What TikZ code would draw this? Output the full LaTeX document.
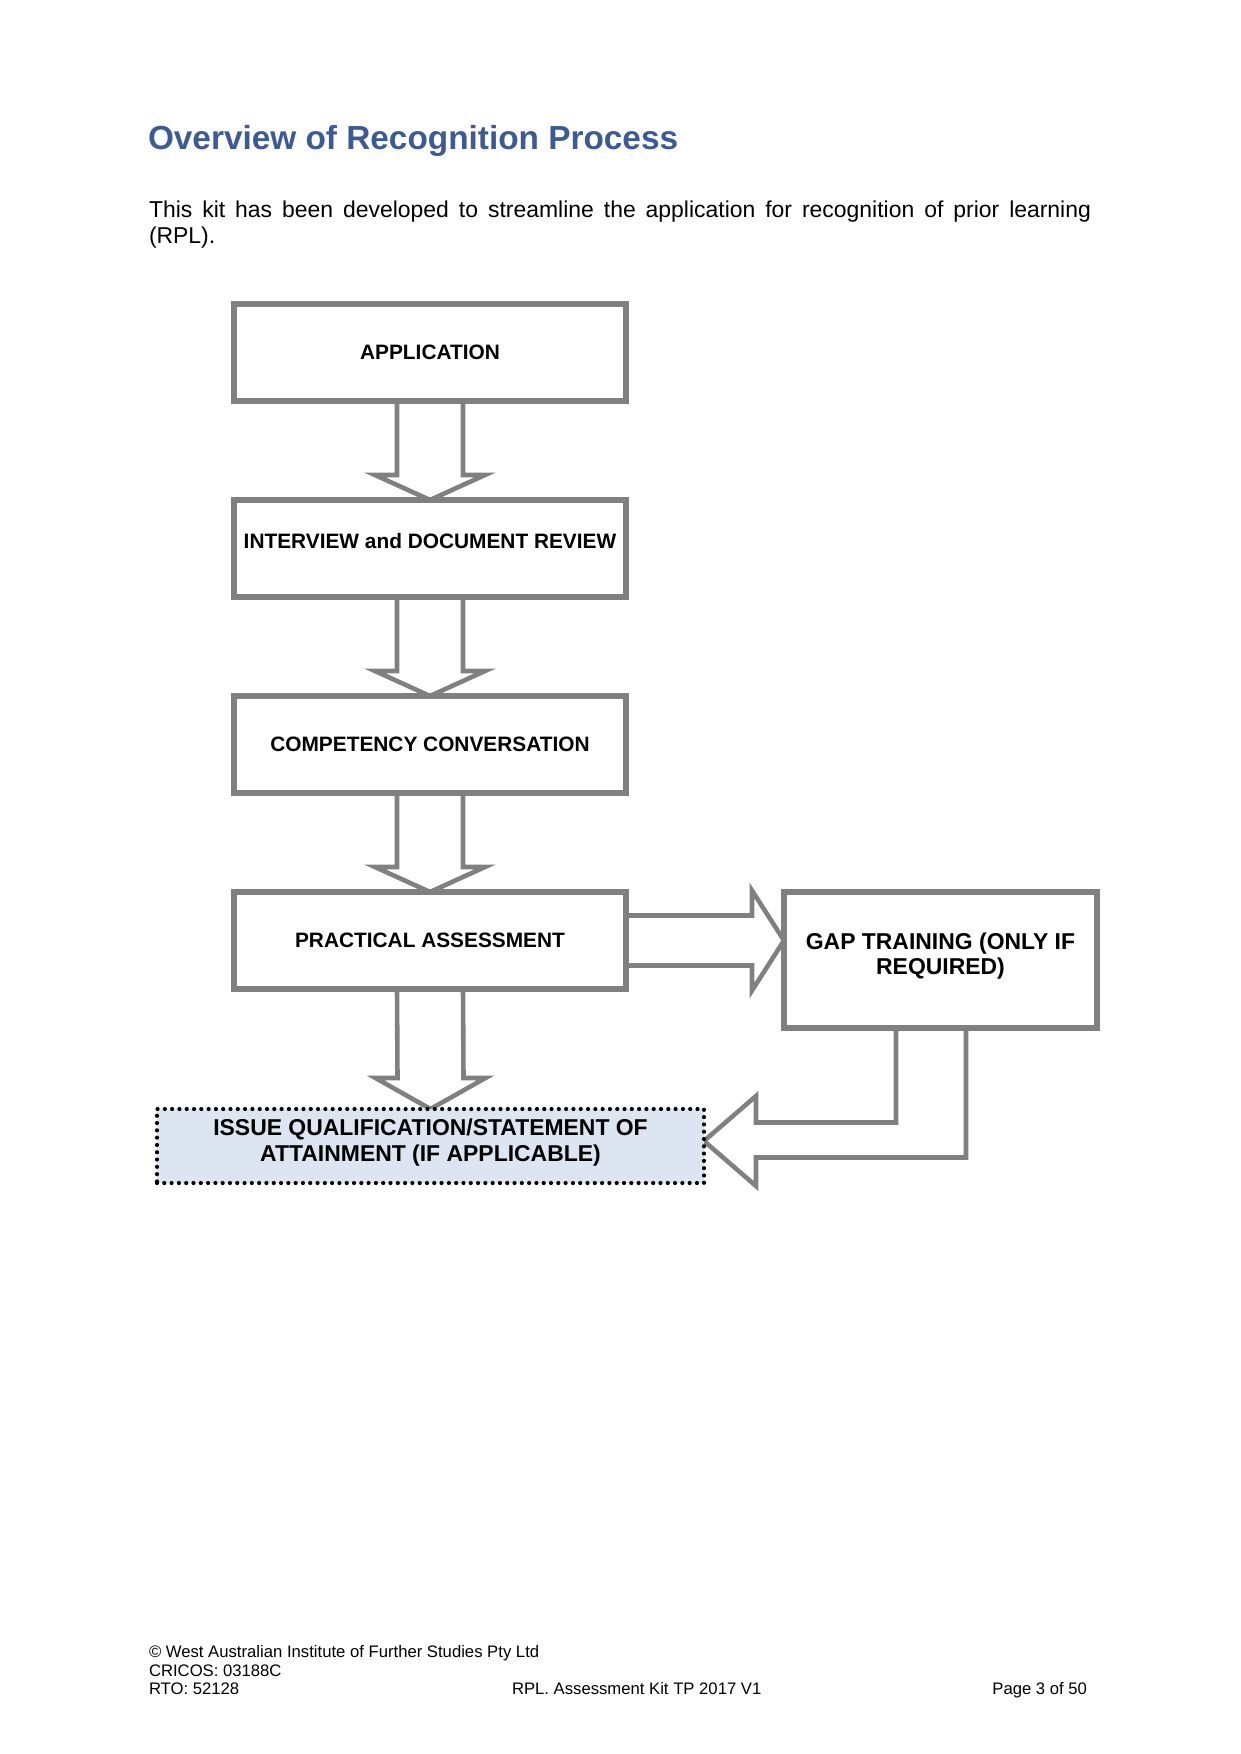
\documentclass[tikz,border=0pt]{standalone}
\usepackage{fontspec}
\setmainfont{Liberation Sans}
\usetikzlibrary{calc,backgrounds}
\definecolor{lgray}{RGB}{128,128,128}
\definecolor{titleblue}{RGB}{60,90,150}
\definecolor{issuefill}{RGB}{220,229,241}
\newcommand\blockdown[3]{%
  \draw[blockarrow] ($(#1.south)+(-33,0)$) -- ($(#2.north)+(-33,-#3)$) -- ($(#2.north)+(-55,-#3)$) -- (#2.north) -- ($(#2.north)+(55,-#3)$) -- ($(#2.north)+(33,-#3)$) -- ($(#1.south)+(33,0)$) -- cycle;}
\begin{document}
\begin{tikzpicture}[x=0.479674pt, y=-0.479674pt,
  box/.style={draw=lgray, line width=2.8pt, fill=white, inner sep=0pt, outer sep=0pt,
    minimum width=188.03pt, minimum height=46.53pt,
    font=\fontsize{10}{12}\selectfont\bfseries, align=center},
  gapbox/.style={box, minimum width=150.14pt, minimum height=65.24pt,
    font=\fontsize{11}{12}\selectfont\bfseries},
  issuebox/.style={draw=black, line width=2pt, dash pattern=on 0pt off 3.5pt, line cap=round,
    fill=issuefill, inner sep=0pt, outer sep=0pt, minimum width=262.38pt, minimum height=35.5pt,
    font=\fontsize{11}{12.5}\selectfont\bfseries, align=center},
  blockarrow/.style={draw=lgray, line width=2.2pt, fill=white, line join=miter},
  plain/.style={inner sep=0pt, outer sep=0pt}
]
\useasboundingbox (0,0) rectangle (1241,1754);

% heading and intro
\node[plain, anchor=base west, text=titleblue, font=\fontsize{16}{19}\selectfont\bfseries] (title) at (148,149) {Overview of Recognition Process};
\node[plain, anchor=base west] (intro) at (149,217) {\parbox[t]{451.85pt}{\fontsize{11}{12.5}\selectfont\noindent This kit has been developed to streamline the application for recognition of prior learning\linebreak (RPL).}};

% boxes
\node[box] (app)  at (430,352.5) {APPLICATION};
\node[box] (intv) at (430,548.5) {\smash{INTERVIEW and DOCUMENT REVIEW}};
\node[box] (comp) at (430,744.5) {COMPETENCY CONVERSATION};
\node[box] (prac) at (430,940.5) {PRACTICAL ASSESSMENT};
\node[gapbox] (gap) at (940.5,960) {GAP TRAINING (ONLY IF\\REQUIRED)\rule[-6pt]{0pt}{0pt}};
\node[issuebox] (issue) at (430.5,1146) {ISSUE QUALIFICATION/STATEMENT OF\\ATTAINMENT (IF APPLICABLE)\rule[-5.3pt]{0pt}{0pt}};

% block arrows
\begin{scope}[on background layer]
  \blockdown{app}{intv}{25}
  \blockdown{intv}{comp}{25}
  \blockdown{comp}{prac}{25}
  \blockdown{prac}{issue}{31}
  \coordinate (rt) at (prac.east -| gap.west);
  \draw[blockarrow] ($(prac.east)+(0,-25)$) -- ($(rt)+(-32,-25)$) -- ($(rt)+(-32,-50)$) -- (rt) -- ($(rt)+(-32,50)$) -- ($(rt)+(-32,25)$) -- ($(prac.east)+(0,25)$) -- cycle;
  \coordinate (bt) at ($(issue.east)+(0,-5)$);
  \coordinate (g1) at ($(gap.south)+(-44.5,0)$);
  \coordinate (g2) at ($(gap.south)+(25.5,0)$);
  \coordinate (i1) at ($(bt)+(52,-18.5)$);
  \coordinate (o1) at ($(bt)+(52,16.5)$);
  \coordinate (h1) at ($(bt)+(52,-45)$);
  \coordinate (h2) at ($(bt)+(52,45)$);
  \draw[blockarrow] (g1) -- (g1 |- i1) -- (i1) -- (h1) -- (bt) -- (h2) -- (o1) -- (g2 |- o1) -- (g2) -- cycle;
\end{scope}

% footer
\node[plain, anchor=base west, font=\fontsize{8}{9.2}\selectfont] (f1) at (149,1657) {© West Australian Institute of Further Studies Pty Ltd};
\node[plain, anchor=base west, font=\fontsize{8}{9.2}\selectfont] (f2) at (149,1676) {CRICOS: 03188C};
\node[plain, anchor=base west, font=\fontsize{8}{9.2}\selectfont] (f3) at (149,1694) {RTO: 52128};
\node[plain, anchor=base west, font=\fontsize{8}{9.2}\selectfont] (f4) at (512,1694) {RPL. Assessment Kit TP 2017 V1};
\node[plain, anchor=base east, font=\fontsize{8}{9.2}\selectfont] (f5) at (1087,1694) {Page 3 of 50};
\end{tikzpicture}
\end{document}
